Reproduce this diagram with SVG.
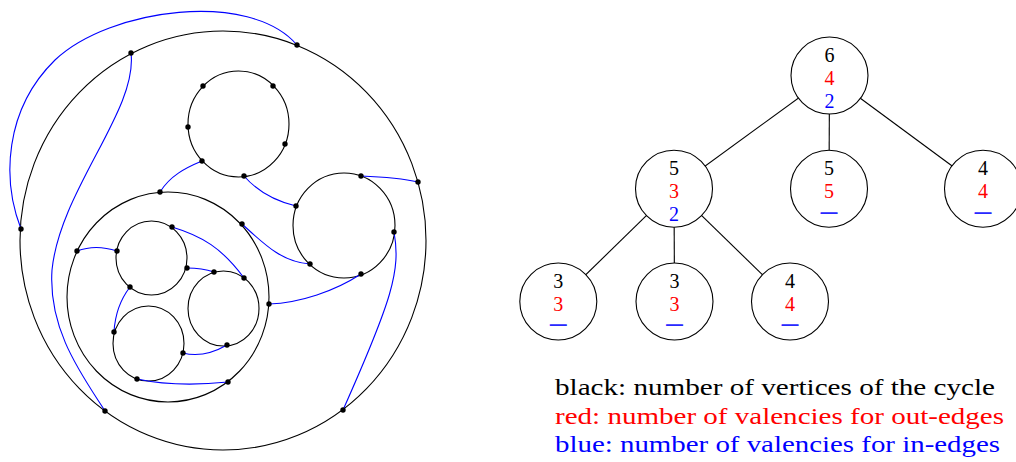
<svg xmlns="http://www.w3.org/2000/svg" width="1016" height="462" viewBox="0 0 1016 462">
<style>
.cyc{fill:none;stroke:#000;stroke-width:1.1}
.e{fill:none;stroke:#0000ff;stroke-width:1.1}
.v{fill:#000}
.tn{fill:#fff;stroke:#000;stroke-width:1.1}
.te{stroke:#000;stroke-width:1.1}
.t{font-family:"Liberation Serif","DejaVu Serif",serif;font-size:20px;text-anchor:middle}
.k{fill:#000}.r{fill:#ff0000}.b{fill:#0000ff}
.d{font-family:"Liberation Sans","DejaVu Sans",sans-serif;font-size:17px;font-weight:bold;text-anchor:middle;fill:#2828ff}
.lg{font-family:"Liberation Serif","DejaVu Serif",serif;font-size:24px}
</style>
<rect width="1016" height="462" fill="#fff"/>

<!-- Left diagram: cycles -->
<g id="cycles">
  <ellipse id="outer" class="cyc" cx="223" cy="240.5" rx="203" ry="209.5"/>
  <ellipse id="top" class="cyc" cx="238.5" cy="124" rx="50.5" ry="53"/>
  <ellipse id="right" class="cyc" cx="344" cy="225.5" rx="51" ry="52.5"/>
  <ellipse id="inner" class="cyc" cx="168" cy="297" rx="101" ry="105"/>
  <ellipse id="smallA" class="cyc" cx="151.5" cy="258" rx="35.5" ry="37"/>
  <ellipse id="smallB" class="cyc" cx="223.5" cy="308.5" rx="35.5" ry="37.5"/>
  <ellipse id="smallC" class="cyc" cx="148.5" cy="343.5" rx="35.5" ry="37.5"/>
</g>

<g id="edges">
  <path class="e" d="M21,229 C2,180 4,110 55,60 C110,8 250,-10 297,45"/>
  <path class="e" d="M131,53 C138,110 60,190 52,270 C48,330 82,375 105,411"/>
  <path class="e" d="M202,161 C185,168 170,176 160,192"/>
  <path class="e" d="M244,176 C258,192 275,201 296,206"/>
  <path class="e" d="M361,176 C385,177 405,179 418,182"/>
  <path class="e" d="M394,232 C401,270 392,300 343,410"/>
  <path class="e" d="M242,224 C265,245 282,262 310,264"/>
  <path class="e" d="M361,274 C335,291 300,303 269,304"/>
  <path class="e" d="M77,251 C90,246 105,247 117,251"/>
  <path class="e" d="M172,227 C202,236 222,248 244,278"/>
  <path class="e" d="M187,268 C197,268 205,269 214,272"/>
  <path class="e" d="M130,287 C120,300 115,315 114,332"/>
  <path class="e" d="M183,353 C198,357 213,353 227,345"/>
  <path class="e" d="M137,379 C165,385 200,385 228,382"/>
</g>

<g id="vertices">
  <circle class="v" cx="131" cy="53" r="2.7"/>
  <circle class="v" cx="297" cy="45" r="2.7"/>
  <circle class="v" cx="418" cy="182" r="2.7"/>
  <circle class="v" cx="21" cy="229" r="2.7"/>
  <circle class="v" cx="105" cy="411" r="2.7"/>
  <circle class="v" cx="343" cy="410" r="2.7"/>
  <circle class="v" cx="203" cy="86" r="2.7"/>
  <circle class="v" cx="273" cy="86" r="2.7"/>
  <circle class="v" cx="188" cy="127" r="2.7"/>
  <circle class="v" cx="285" cy="144" r="2.7"/>
  <circle class="v" cx="202" cy="161" r="2.7"/>
  <circle class="v" cx="244" cy="176" r="2.7"/>
  <circle class="v" cx="361" cy="176" r="2.7"/>
  <circle class="v" cx="296" cy="206" r="2.7"/>
  <circle class="v" cx="394" cy="232" r="2.7"/>
  <circle class="v" cx="310" cy="264" r="2.7"/>
  <circle class="v" cx="361" cy="274" r="2.7"/>
  <circle class="v" cx="160" cy="192" r="2.7"/>
  <circle class="v" cx="242" cy="224" r="2.7"/>
  <circle class="v" cx="77" cy="251" r="2.7"/>
  <circle class="v" cx="269" cy="304" r="2.7"/>
  <circle class="v" cx="228" cy="382" r="2.7"/>
  <circle class="v" cx="172" cy="227" r="2.7"/>
  <circle class="v" cx="117" cy="251" r="2.7"/>
  <circle class="v" cx="187" cy="268" r="2.7"/>
  <circle class="v" cx="130" cy="287" r="2.7"/>
  <circle class="v" cx="214" cy="272" r="2.7"/>
  <circle class="v" cx="244" cy="278" r="2.7"/>
  <circle class="v" cx="227" cy="345" r="2.7"/>
  <circle class="v" cx="114" cy="332" r="2.7"/>
  <circle class="v" cx="183" cy="353" r="2.7"/>
  <circle class="v" cx="137" cy="379" r="2.7"/>
</g>

<!-- Right: tree -->
<g id="connectors">
  <line class="te" x1="829.5" y1="75.5" x2="674" y2="188.7"/>
  <line class="te" x1="829.5" y1="75.5" x2="829" y2="188.7"/>
  <line class="te" x1="829.5" y1="75.5" x2="983" y2="188.7"/>
  <line class="te" x1="674" y1="188.7" x2="558.3" y2="301.5"/>
  <line class="te" x1="674" y1="188.7" x2="674.5" y2="301.5"/>
  <line class="te" x1="674" y1="188.7" x2="790" y2="301.5"/>
</g>

<g id="n642">
  <circle class="tn" cx="829.5" cy="75.5" r="38.5"/>
  <text class="t k" x="829.5" y="62">6</text>
  <text class="t r" x="829.5" y="85">4</text>
  <text class="t b" x="829.5" y="108">2</text>
</g>
<g id="n532">
  <circle class="tn" cx="674" cy="188.7" r="38.5"/>
  <text class="t k" x="674" y="175">5</text>
  <text class="t r" x="674" y="198">3</text>
  <text class="t b" x="674" y="221">2</text>
</g>
<g id="n55">
  <circle class="tn" cx="829" cy="188.7" r="38.5"/>
  <text class="t k" x="829" y="175">5</text>
  <text class="t r" x="829" y="198">5</text>
  <text class="d" x="829" y="218">—</text>
</g>
<g id="n44a">
  <circle class="tn" cx="983" cy="188.7" r="38.5"/>
  <text class="t k" x="983" y="175">4</text>
  <text class="t r" x="983" y="198">4</text>
  <text class="d" x="983" y="218">—</text>
</g>
<g id="n33a">
  <circle class="tn" cx="558.3" cy="301.5" r="38.5"/>
  <text class="t k" x="558.3" y="287.5">3</text>
  <text class="t r" x="558.3" y="310.5">3</text>
  <text class="d" x="558.3" y="330">—</text>
</g>
<g id="n33b">
  <circle class="tn" cx="674.5" cy="301.5" r="38.5"/>
  <text class="t k" x="674.5" y="287.5">3</text>
  <text class="t r" x="674.5" y="310.5">3</text>
  <text class="d" x="674.5" y="330">—</text>
</g>
<g id="n44b">
  <circle class="tn" cx="790" cy="301.5" r="38.5"/>
  <text class="t k" x="790" y="287.5">4</text>
  <text class="t r" x="790" y="310.5">4</text>
  <text class="d" x="790" y="330">—</text>
</g>

<g id="legend">
  <text class="lg k" x="555" y="395" textLength="440" lengthAdjust="spacingAndGlyphs">black: number of vertices of the cycle</text>
  <text class="lg r" x="555" y="423.5" textLength="449" lengthAdjust="spacingAndGlyphs">red: number of valencies for out-edges</text>
  <text class="lg b" x="555" y="452" textLength="445" lengthAdjust="spacingAndGlyphs">blue: number of valencies for in-edges</text>
</g>
</svg>
